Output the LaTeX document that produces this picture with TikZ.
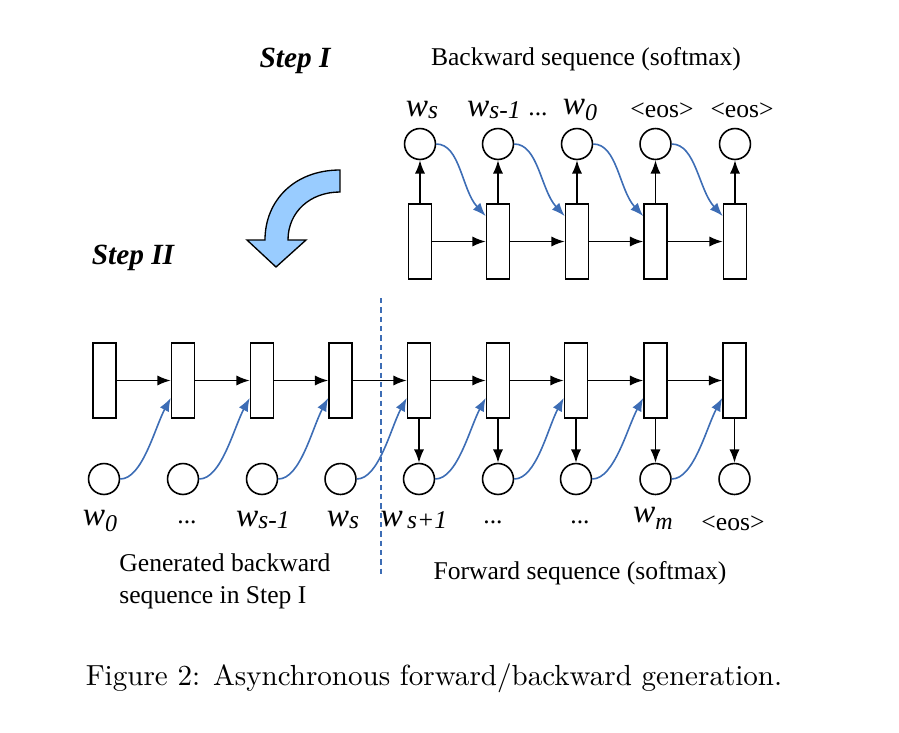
\documentclass[tikz,border=0pt]{standalone}
\usepackage{fontspec}
\usepackage{tikz}
\usetikzlibrary{
arrows.meta,
positioning,
calc
}
\newfontfamily\timesfont{Liberation Serif}
\definecolor{linkblue}{HTML}{3D6DB5}
\definecolor{turnblue}{HTML}{99CCFF}
\newcommand{\wlab}[2][-0.2ex]{{\fontsize{12.5}{14}\selectfont\itshape w}\raisebox{#1}{\itshape #2}}

\begin{document}
\begin{tikzpicture}[
    x=0.375pt,
    y=-0.375pt,
    font=\timesfont\fontsize{9.6}{12}\selectfont,
    cell/.style={
        draw,
        line width=0.6pt,
        inner sep=0pt,
        minimum width=8.6pt,
        minimum height=28.2pt
    },
    word/.style={
        draw,
        circle,
        line width=0.6pt,
        inner sep=0pt,
        minimum size=11.6pt
    },
    flow/.style={
        -{Latex[length=5pt,width=3.8pt]},
        line width=0.6pt
    },
    feed/.style={
        flow,
        linkblue
    },
    stepname/.style={
        font=\timesfont\fontsize{11}{13}\selectfont\bfseries\itshape
    }
]

\useasboundingbox (0,0) rectangle (899,733);

% =========================
% STEP I : BACKWARD SEQUENCE
% =========================
\node[stepname] (stepone) at (295,61) {Step I};
\node (backtitle) at (586,59) {Backward sequence (softmax)};

\node[cell] (tc1) at (420,241.5) {};
\node[cell] (tc2) at (498,241.5) {};
\node[cell] (tc3) at (577,241.5) {};
\node[cell] (tc4) at (655.5,241.5) {};
\node[cell] (tc5) at (735,241.5) {};

\node[word] (tw1) at (420,144) {};
\node[word] (tw2) at (498,144) {};
\node[word] (tw3) at (577,144) {};
\node[word] (tw4) at (655.5,144) {};
\node[word] (tw5) at (735,144) {};

\node (tl1) at (422,110) {\wlab{s}};
\node (tl2) at (494,110) {\wlab{s-1}};
\node (tl3) at (538,114) {...};
\node (tl4) at (580,110) {\wlab[-0.5ex]{\small 0}};
\node (tl5) at (662,110) {<eos>};
\node (tl6) at (742,110) {<eos>};

\draw[flow] (tc1) -- (tc2);
\draw[flow] (tc2) -- (tc3);
\draw[flow] (tc3) -- (tc4);
\draw[flow] (tc4) -- (tc5);

\draw[flow] (tc1) -- (tw1);
\draw[flow] (tc2) -- (tw2);
\draw[flow] (tc3) -- (tw3);
\draw[flow] (tc4) -- (tw4);
\draw[flow] (tc5) -- (tw5);

% fed back into the next cell
\draw[feed] (tw1.east) .. controls +(24,0) and +(-24,-26) .. ($(tc2.north west)+(0,13)$);
\draw[feed] (tw2.east) .. controls +(24,0) and +(-24,-26) .. ($(tc3.north west)+(0,13)$);
\draw[feed] (tw3.east) .. controls +(24,0) and +(-24,-26) .. ($(tc4.north west)+(0,13)$);
\draw[feed] (tw4.east) .. controls +(24,0) and +(-24,-26) .. ($(tc5.north west)+(0,13)$);

% =========================
% TURN ARROW
% =========================
\filldraw[
    fill=turnblue,
    draw=black,
    line width=0.5pt
]
(340,170) .. controls (295,170) and (265,200) .. (265,240)
-- (247,240) -- (276,267) -- (306,240) -- (288,240)
.. controls (288,212) and (310,192) .. (340,192)
-- cycle;

% =========================
% STEP II : FORWARD SEQUENCE
% =========================
\node[stepname] (steptwo) at (133,258) {Step II};

\node[cell] (bc1) at (104.5,380.5) {};
\node[cell] (bc2) at (183,380.5) {};
\node[cell] (bc3) at (262,380.5) {};
\node[cell] (bc4) at (340.5,380.5) {};
\node[cell] (bc5) at (419,380.5) {};
\node[cell] (bc6) at (498,380.5) {};
\node[cell] (bc7) at (576,380.5) {};
\node[cell] (bc8) at (655.5,380.5) {};
\node[cell] (bc9) at (734.5,380.5) {};

\node[word] (bw1) at (104,479) {};
\node[word] (bw2) at (183,479) {};
\node[word] (bw3) at (262,479) {};
\node[word] (bw4) at (340.5,479) {};
\node[word] (bw5) at (419,479) {};
\node[word] (bw6) at (498,479) {};
\node[word] (bw7) at (576,479) {};
\node[word] (bw8) at (655.5,479) {};
\node[word] (bw9) at (734.5,479) {};

\node (bl1) at (100,521) {\wlab[-0.5ex]{\small 0}};
\node (bl2) at (187,522) {...};
\node (bl3) at (263,520) {\wlab{s-1}};
\node (bl4) at (343,520) {\wlab{s}};
\node (bl5) at (414,520) {\wlab{\,s+1}};
\node (bl6) at (493,522) {...};
\node (bl7) at (580,522) {...};
\node (bl8) at (653,518) {\wlab[-0.6ex]{\small m}};
\node (bl9) at (733,523) {<eos>};

\draw[flow] (bc1) -- (bc2);
\draw[flow] (bc2) -- (bc3);
\draw[flow] (bc3) -- (bc4);
\draw[flow] (bc4) -- (bc5);
\draw[flow] (bc5) -- (bc6);
\draw[flow] (bc6) -- (bc7);
\draw[flow] (bc7) -- (bc8);
\draw[flow] (bc8) -- (bc9);

\draw[flow] (bc5) -- (bw5);
\draw[flow] (bc6) -- (bw6);
\draw[flow] (bc7) -- (bw7);
\draw[flow] (bc8) -- (bw8);
\draw[flow] (bc9) -- (bw9);

% words read into the next cell
\draw[feed] (bw1.east) .. controls +(22,0) and +(-16,30) .. ($(bc2.south west)+(0,-21)$);
\draw[feed] (bw2.east) .. controls +(22,0) and +(-16,30) .. ($(bc3.south west)+(0,-21)$);
\draw[feed] (bw3.east) .. controls +(22,0) and +(-16,30) .. ($(bc4.south west)+(0,-21)$);
\draw[feed] (bw4.east) .. controls +(22,0) and +(-16,30) .. ($(bc5.south west)+(0,-21)$);
\draw[feed] (bw5.east) .. controls +(22,0) and +(-16,30) .. ($(bc6.south west)+(0,-21)$);
\draw[feed] (bw6.east) .. controls +(22,0) and +(-16,30) .. ($(bc7.south west)+(0,-21)$);
\draw[feed] (bw7.east) .. controls +(22,0) and +(-16,30) .. ($(bc8.south west)+(0,-21)$);
\draw[feed] (bw8.east) .. controls +(22,0) and +(-16,30) .. ($(bc9.south west)+(0,-21)$);

% split between the two parts
\coordinate (splittop) at (381,298);
\coordinate (splitbot) at (381,577);
\draw[
    linkblue,
    line width=0.6pt,
    dash pattern=on 2pt off 1.5pt
]
(splittop) -- (splitbot);

\node[
    align=left,
    anchor=west
]
(genlabel) at (110,581)
{Generated backward\\sequence in Step I};

\node (fwdtitle) at (580,573) {Forward sequence (softmax)};

% Caption
\node[
    font=\normalfont\fontsize{10.9}{13}\selectfont
]
(caption) at (434,678)
{Figure 2: Asynchronous forward/backward generation.};

\end{tikzpicture}
\end{document}
